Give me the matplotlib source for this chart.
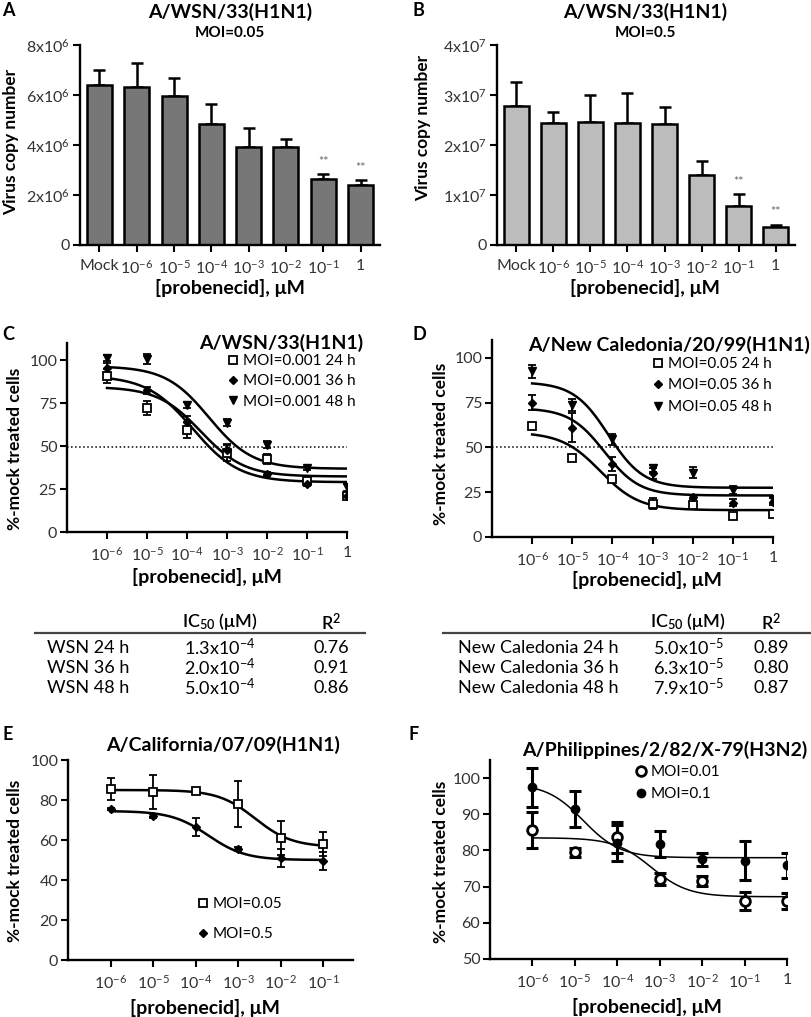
import numpy as np
import matplotlib
matplotlib.use('Agg')
import matplotlib.pyplot as plt
from matplotlib.lines import Line2D
from matplotlib.ticker import NullLocator

plt.rcParams['font.family'] = ['Lato', 'DejaVu Sans']
plt.rcParams['mathtext.fontset'] = 'custom'
plt.rcParams['mathtext.rm'] = 'Lato'
plt.rcParams['mathtext.bf'] = 'Lato:bold'
plt.rcParams['mathtext.it'] = 'Lato:italic'
plt.rcParams['mathtext.default'] = 'regular'

W, H = 812, 1017

# ---- data ----
bar_labels = ['Mock', r'10$^{-6}$', r'10$^{-5}$', r'10$^{-4}$', r'10$^{-3}$',
              r'10$^{-2}$', r'10$^{-1}$', '1']
a_vals = [6.40e6, 6.31e6, 5.97e6, 4.83e6, 3.92e6, 3.92e6, 2.65e6, 2.39e6]
a_err = [0.60e6, 0.96e6, 0.72e6, 0.80e6, 0.77e6, 0.31e6, 0.18e6, 0.20e6]
b_vals = [2.79e7, 2.45e7, 2.47e7, 2.45e7, 2.43e7, 1.41e7, 0.79e7, 0.36e7]
b_err = [0.48e7, 0.21e7, 0.53e7, 0.60e7, 0.33e7, 0.28e7, 0.24e7, 0.04e7]
a_yticks = [0, 2e6, 4e6, 6e6, 8e6]
a_yticklabels = ['0', r'2x10$^{6}$', r'4x10$^{6}$', r'6x10$^{6}$', r'8x10$^{6}$']
b_yticks = [0, 1e7, 2e7, 3e7, 4e7]
b_yticklabels = ['0', r'1x10$^{7}$', r'2x10$^{7}$', r'3x10$^{7}$', r'4x10$^{7}$']

conc = [1e-6, 1e-5, 1e-4, 1e-3, 1e-2, 1e-1, 1]
conc_labels = [r'10$^{-6}$', r'10$^{-5}$', r'10$^{-4}$', r'10$^{-3}$',
               r'10$^{-2}$', r'10$^{-1}$', '1']

c_24 = [90.7, 72.0, 59.4, 46.2, 42.4, 29.8, 20.7]
c_24_err = [4.0, 4.0, 4.5, 5.0, 3.0, 1.5, 1.5]
c_36 = [95.5, 82.6, 63.8, 47.8, 33.8, 28.0, 21.0]
c_36_err = [3.0, 2.0, 4.0, 3.0, 1.0, 1.0, 1.0]
c_48 = [101.3, 100.6, 73.9, 63.6, 50.7, 37.0, 26.0]
c_48_err = [2.0, 3.0, 2.0, 2.0, 2.0, 1.0, 2.0]

d_24 = [62.0, 44.3, 32.3, 18.7, 17.8, 12.0, 13.1]
d_24_err = [1.0, 1.5, 1.5, 3.0, 1.5, 1.0, 1.0]
d_36 = [75.1, 61.1, 40.7, 35.5, 22.4, 19.1, 19.6]
d_36_err = [4.0, 8.0, 4.0, 3.0, 1.0, 2.0, 2.0]
d_48 = [92.5, 73.8, 54.6, 38.3, 35.9, 26.2, 21.0]
d_48_err = [3.5, 3.5, 3.0, 2.0, 3.0, 2.0, 2.0]

e_conc = [1e-6, 1e-5, 1e-4, 1e-3, 1e-2, 1e-1]
e_005 = [85.5, 84.2, 84.7, 78.0, 61.2, 58.0]
e_005_err = [5.7, 8.5, 1.0, 11.5, 8.5, 6.0]
e_05 = [75.4, 72.0, 66.5, 55.3, 51.0, 49.5]
e_05_err = [0.5, 1.0, 4.5, 1.0, 4.5, 4.5]

f_001 = [85.7, 79.5, 83.7, 72.1, 71.6, 66.1, 66.1]
f_001_err = [5.0, 1.2, 4.3, 1.7, 1.3, 2.5, 2.2]
f_01 = [97.4, 91.4, 82.0, 81.8, 77.6, 77.2, 75.9]
f_01_err = [5.3, 5.0, 5.0, 3.7, 1.8, 5.5, 3.5]

# 4-parameter logistic fits: top, bottom, logIC50, hill
c_fits = [(91.0, 29.0, -3.85, 0.75), (84.5, 32.3, -3.65, 0.8), (96.5, 36.8, -3.45, 0.8)]
d_fits = [(58.5, 15.0, -4.3, 0.9), (72.0, 23.2, -4.2, 1.0), (86.5, 27.5, -4.1, 1.0)]
e_fits = [(85.0, 56.5, -2.6, 1.0), (74.5, 50.0, -3.7, 1.0)]
f_fits = [(83.5, 67.2, -3.2, 1.0), (98.5, 78.0, -4.8, 1.0)]

wsn_rows = ['WSN 24 h', 'WSN 36 h', 'WSN 48 h']
wsn_ic50 = [r'1.3x10$^{-4}$', r'2.0x10$^{-4}$', r'5.0x10$^{-4}$']
wsn_r2 = ['0.76', '0.91', '0.86']
nc_rows = ['New Caledonia 24 h', 'New Caledonia 36 h', 'New Caledonia 48 h']
nc_ic50 = [r'5.0x10$^{-5}$', r'6.3x10$^{-5}$', r'7.9x10$^{-5}$']
nc_r2 = ['0.89', '0.80', '0.87']

TICK = 11.5
TITLE = 14
XLAB = 14
YLAB = 12.5
LEG = 11
LETTER = 13

fig = plt.figure(figsize=(W / 100, H / 100), dpi=100)


def add_ax(l, t, r, b):
    return fig.add_axes([l / W, 1 - b / H, (r - l) / W, (b - t) / H])


def ftext(x, y, s, **kw):
    fig.text(x / W, 1 - y / H, s, **kw)


def style(ax):
    for s in ['top', 'right']:
        ax.spines[s].set_visible(False)
    for s in ['left', 'bottom']:
        ax.spines[s].set_linewidth(1.7)
    ax.tick_params(direction='out', length=5, width=1.5, labelsize=TICK,
                   labelcolor='#333333')
    ax.tick_params(axis='x', pad=5)
    ax.tick_params(axis='y', pad=2)


def sig(x, top, bot, logic, h):
    return bot + (top - bot) / (1 + 10 ** ((np.log10(x) - logic) * h))


def bar_panel(ax, vals, err, color, yticks, yticklabels, stars):
    pos = np.arange(len(vals))
    ax.bar(pos, vals, width=0.67, color=color, edgecolor='black', linewidth=1.8, zorder=2)
    ax.errorbar(pos, vals, yerr=[np.zeros(len(err)), err], fmt='none', ecolor='black',
                elinewidth=1.8, capsize=4.5, capthick=1.8, zorder=1)
    for i, y in stars:
        ax.text(i, y, '**', ha='center', va='center', fontsize=9, color='#666666')
    ax.set_xlim(-0.52, 7.52)
    ax.set_ylim(yticks[0], yticks[-1])
    ax.set_xticks(pos)
    ax.set_xticklabels(bar_labels)
    ax.set_yticks(yticks)
    ax.set_yticklabels(yticklabels)
    style(ax)


def dose_axis(ax, xmax, ylim, yticks, ticks, labels):
    ax.set_xscale('log')
    ax.set_xlim(1e-7, xmax)
    ax.set_ylim(*ylim)
    ax.set_xticks(ticks)
    ax.set_xticklabels(labels)
    ax.xaxis.set_minor_locator(NullLocator())
    ax.set_yticks(yticks)
    style(ax)


mk = {
    's': dict(marker='s', mfc='white', mec='black', ms=6, mew=1.3),
    'D': dict(marker='D', mfc='black', mec='black', ms=4.5),
    'v': dict(marker='v', mfc='black', mec='black', ms=6),
    'o': dict(marker='o', mfc='white', mec='black', ms=7, mew=2),
    '.': dict(marker='o', mfc='black', mec='black', ms=6),
}


def series(ax, x, y, e, kind, elw=1.3, cap=3):
    ax.errorbar(x, y, yerr=e, fmt='none', ecolor='black', elinewidth=elw,
                capsize=cap, capthick=elw, zorder=3)
    ax.plot(x, y, ls='none', zorder=4, **mk[kind])


def legend(ax, kinds, labels, left, top, spacing):
    handles = [Line2D([], [], ls='none', **mk[k]) for k in kinds]
    ax.legend(handles, labels, loc='upper left', bbox_to_anchor=(left / W, 1 - top / H),
              bbox_transform=fig.transFigure, frameon=False, fontsize=LEG,
              handlelength=1.0, handletextpad=0.15, labelspacing=spacing,
              borderpad=0, borderaxespad=0)


def labels(letter, lx, ly, title, tx, ty, tha, ylab, yx, yy, xx, xy):
    ftext(lx, ly, letter, fontsize=LETTER, fontweight='bold', va='center')
    ftext(tx, ty, title, fontsize=TITLE, fontweight='bold', ha=tha, va='center')
    ftext(yx, yy, ylab, fontsize=YLAB, fontweight='bold', rotation=90,
          ha='center', va='center')
    ftext(xx, xy, '[probenecid], μM', fontsize=XLAB, fontweight='bold',
          ha='center', va='center')


# ---- A ----
axA = add_ax(80, 45, 380, 245)
bar_panel(axA, a_vals, a_err, '#777777', a_yticks, a_yticklabels,
          [(6, 3.3e6), (7, 3.1e6)])
labels('A', 2, 10, 'A/WSN/33(H1N1)', 230, 12, 'center',
       'Virus copy number', 11, 142, 230, 288)
ftext(230, 33, 'MOI=0.05', fontsize=11, fontweight='bold', ha='center', va='center')

# ---- B ----
axB = add_ax(497, 45, 795, 245)
bar_panel(axB, b_vals, b_err, '#bcbcbc', b_yticks, b_yticklabels,
          [(6, 1.25e7), (7, 0.67e7)])
labels('B', 412, 10, 'A/WSN/33(H1N1)', 645, 12, 'center',
       'Virus copy number', 423, 128, 645, 288)
ftext(645, 33, 'MOI=0.5', fontsize=11, fontweight='bold', ha='center', va='center')

# ---- C ----
axC = add_ax(67, 343, 347, 532)
dose_axis(axC, 1, (0, 110), [0, 25, 50, 75, 100], conc, conc_labels)
axC.axhline(49.5, ls=':', color='black', lw=1.1, zorder=1)
xs = np.logspace(-6, 0, 200)
for p in c_fits:
    axC.plot(xs, sig(xs, *p), color='black', lw=1.8, zorder=2)
series(axC, conc, c_24, c_24_err, 's')
series(axC, conc, c_36, c_36_err, 'D')
series(axC, conc, c_48, c_48_err, 'v')
legend(axC, ['s', 'D', 'v'], ['MOI=0.001 24 h', 'MOI=0.001 36 h', 'MOI=0.001 48 h'],
       225, 354, 0.42)
labels('C', 2, 335, 'A/WSN/33(H1N1)', 363, 343, 'right',
       '%-mock treated cells', 15, 449, 207, 577)

# ---- D ----
axD = add_ax(492, 340, 773, 537)
dose_axis(axD, 1, (0, 110), [0, 25, 50, 75, 100], conc, conc_labels)
axD.axhline(50, ls=':', color='black', lw=1.1, zorder=1)
for p in d_fits:
    axD.plot(xs, sig(xs, *p), color='black', lw=1.8, zorder=2)
series(axD, conc, d_24, d_24_err, 's')
series(axD, conc, d_36, d_36_err, 'D')
series(axD, conc, d_48, d_48_err, 'v')
legend(axD, ['s', 'D', 'v'], ['MOI=0.05 24 h', 'MOI=0.05 36 h', 'MOI=0.05 48 h'],
       650, 357, 0.49)
labels('D', 412, 335, 'A/New Caledonia/20/99(H1N1)', 810, 345, 'right',
       '%-mock treated cells', 441, 444, 647, 580)


# ---- tables ----
def table(x0, x1, name_x, ic_x, r2_x, names, ics, r2s):
    ftext(ic_x, 622, r'IC$_{50}$ (μM)', fontsize=13, fontweight='semibold',
          ha='center', va='center')
    ftext(r2_x, 622, r'R$^{2}$', fontsize=13, fontweight='semibold',
          ha='center', va='center')
    fig.add_artist(Line2D([x0 / W, x1 / W], [1 - 633 / H] * 2, color='#444444', lw=1.6))
    for i, (n, ic, r2) in enumerate(zip(names, ics, r2s)):
        y = 648 + 20 * i
        ftext(name_x, y, n, fontsize=13, ha='left', va='center')
        ftext(ic_x, y, ic, fontsize=13, ha='center', va='center')
        ftext(r2_x, y, r2, fontsize=13, ha='center', va='center')


table(35, 365, 47, 220, 331, wsn_rows, wsn_ic50, wsn_r2)
table(443, 812, 458, 688, 771, nc_rows, nc_ic50, nc_r2)

# ---- E ----
axE = add_ax(68, 760, 353, 960)
dose_axis(axE, 10 ** -0.3, (0, 100), [0, 20, 40, 60, 80, 100], e_conc, conc_labels[:6])
xe = np.logspace(-6, -1, 200)
for p in e_fits:
    axE.plot(xe, sig(xe, *p), color='black', lw=1.8, zorder=2)
series(axE, e_conc, e_005, e_005_err, 's')
series(axE, e_conc, e_05, e_05_err, 'D')
legend(axE, ['s', 'D'], ['MOI=0.05', 'MOI=0.5'], 195, 897, 1.07)
labels('E', 2, 735, 'A/California/07/09(H1N1)', 340, 745, 'right',
       '%-mock treated cells', 15, 861, 205, 1008)

# ---- F ----
axF = add_ax(490, 760, 787, 959)
dose_axis(axF, 1, (50, 105), [50, 60, 70, 80, 90, 100], conc, conc_labels)
for p in f_fits:
    axF.plot(xs, sig(xs, *p), color='black', lw=1.1, zorder=2)
series(axF, conc, f_001, f_001_err, 'o', elw=2.2, cap=4)
series(axF, conc, f_01, f_01_err, '.', elw=2.2, cap=4)
legend(axF, ['o', '.'], ['MOI=0.01', 'MOI=0.1'], 633, 765, 0.55)
labels('F', 408, 735, 'A/Philippines/2/82/X-79(H3N2)', 807, 750, 'right',
       '%-mock treated cells', 441, 862, 647, 1007)

fig.savefig('out.png', dpi=100)
